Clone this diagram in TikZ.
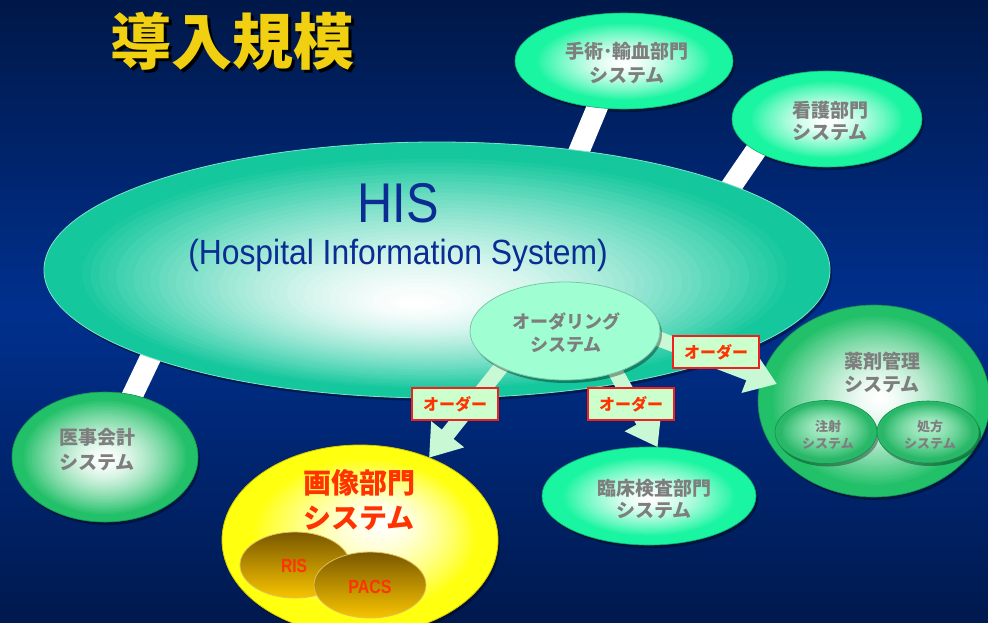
\documentclass[tikz,border=0pt]{standalone}
\usepackage{fontspec}
\usetikzlibrary{shapes.geometric,arrows.meta,shadows}
\newfontfamily\jp{Noto Sans CJK JP}
\newfontfamily\ar{Liberation Sans}
\definecolor{bgtop}{HTML}{001848}
\definecolor{bgmid}{HTML}{00308E}
\definecolor{bgbot}{HTML}{00194E}
\definecolor{titley}{HTML}{F0D010}
\definecolor{hisgreen}{HTML}{14C79C}
\definecolor{hisedge}{HTML}{7FE0C8}
\definecolor{hisblue}{HTML}{0B2C92}
\definecolor{mint}{HTML}{19F5A0}
\definecolor{mintedge}{HTML}{10B070}
\definecolor{leaf}{HTML}{22C068}
\definecolor{leafedge}{HTML}{139050}
\definecolor{subleaf}{HTML}{28B868}
\definecolor{subleafin}{HTML}{B0F0CC}
\definecolor{yell}{HTML}{FFFF10}
\definecolor{yelledge}{HTML}{D8C800}
\definecolor{goldtop}{HTML}{7A5800}
\definecolor{goldbot}{HTML}{F8C400}
\definecolor{goldedge}{HTML}{E0C060}
\definecolor{graytxt}{HTML}{7E7E7E}
\definecolor{redtxt}{HTML}{FF3300}
\definecolor{ordfill}{HTML}{A0FFD2}
\definecolor{ordedge}{HTML}{78C8A8}
\definecolor{arrowfill}{HTML}{C8F8D4}
\definecolor{labfill}{HTML}{CCFFCC}
\definecolor{labred}{HTML}{F02020}
\def\glowexp{1.5}
% glow: #1 cx, #2 cy, #3 rx, #4 ry, #5 outer colour, #6 hx, #7 hy (highlight), #8 fraction where outer colour is full, #9 inner colour
\newcommand\glowfill[9]{%
  \foreach \k in {1,...,40}{%
    \pgfmathsetmacro\gs{#8*(1-\k/40)}%
    \pgfmathtruncatemacro\gp{100*(\gs/#8)^\glowexp}%
    \pgfmathsetmacro\gx{#6+\gs*(#1-#6)}%
    \pgfmathsetmacro\gy{#7+\gs*(#2-#7)}%
    \pgfmathsetmacro\grx{#3*\gs}%
    \pgfmathsetmacro\gry{#4*\gs}%
    \fill[#5!\gp!#9] (\gx,\gy) ellipse [x radius=\grx, y radius=\gry];
  }}
\tikzset{
  ell/.style={ellipse, inner sep=0pt, outer sep=0pt},
  shad/.style={drop shadow={shadow xshift=2pt, shadow yshift=-3pt, fill=black, opacity=.35}},
  bar/.style={draw=white, line width=21pt, shorten <=-8pt, shorten >=-8pt},
  ordarrow/.style={draw=arrowfill, line width=15pt, -{Triangle[length=30pt 0 0, width=40pt 0 0]}},
  ordlabel/.style={rectangle, draw=labred, line width=1.4pt, fill=labfill, minimum width=86pt, minimum height=32pt, inner sep=0pt, text=redtxt, font={\jp\bfseries\fontsize{16}{16}\selectfont}},
  gtxt/.style={align=center, text=graytxt, inner sep=0pt, font={\jp\bfseries\fontsize{19}{24}\selectfont}},
  stxt/.style={align=center, text=graytxt, inner sep=0pt, font={\jp\bfseries\fontsize{13}{17}\selectfont}},
  gold/.style={ell, top color=goldtop, bottom color=goldbot, draw=goldedge, line width=.8pt},
}
\begin{document}
\begin{tikzpicture}[x=1pt,y=-1pt]
\useasboundingbox (0,0) rectangle (988,622);
\shade[top color=bgtop, bottom color=bgbot, middle color=bgmid] (0,0) rectangle (988,622);
% title with shadow
\node[inner sep=0pt, font={\jp\bfseries\fontsize{61}{61}\selectfont}] (title) at (232,43) {\rlap{\kern3pt\raisebox{-3pt}{\color{black}導入規模}}\color{titley}導入規模};
% nodes used for anchors / shadows
\node[ell, minimum width=786pt, minimum height=256pt, fill=hisgreen, shad] (his) at (437,270) {};
\node[ell, minimum width=218pt, minimum height=96pt, fill=mint, shad] (op) at (624,61) {};
\node[ell, minimum width=190pt, minimum height=96pt, fill=mint, shad] (nur) at (827,119) {};
\node[ell, minimum width=186pt, minimum height=130pt, fill=leaf, shad] (acc) at (105,457) {};
% white bars
\draw[bar] (op.-120) -- (his.40);
\draw[bar] (nur.-156) -- (his.16);
\draw[bar] (his.-163) -- (acc.66);
% glowing fills over the bars
\fill[hisgreen] (his.center) ellipse [x radius=393, y radius=128];
\glowfill{437}{270}{393}{128}{hisgreen}{415}{305}{0.92}{white}
\draw[hisedge, line width=.8pt] (his.center) ellipse [x radius=393, y radius=128];
\fill[mint] (op.center) ellipse [x radius=109, y radius=48];
\glowfill{624}{61}{109}{48}{mint}{624}{64}{0.82}{white}
\draw[mintedge, line width=.6pt] (op.center) ellipse [x radius=109, y radius=48];
\fill[mint] (nur.center) ellipse [x radius=95, y radius=48];
\glowfill{827}{119}{95}{48}{mint}{827}{122}{0.82}{white}
\draw[mintedge, line width=.6pt] (nur.center) ellipse [x radius=95, y radius=48];
\fill[leaf] (acc.center) ellipse [x radius=93, y radius=65];
\glowfill{105}{457}{93}{65}{leaf}{105}{460}{0.9}{white}
\draw[leafedge, line width=.6pt] (acc.center) ellipse [x radius=93, y radius=65];
% HIS text
\node[anchor=base, text=hisblue, inner sep=0pt, font={\ar\fontsize{56}{56}\selectfont}] (histitle) at (398,222) {\scalebox{0.87}[1]{HIS}};
\node[anchor=base, text=hisblue, inner sep=0pt, font={\ar\fontsize{35}{35}\selectfont}] (hisfull) at (398,264) {\scalebox{0.91}[1]{(Hospital Information System)}};
% other systems
\node[gtxt] (optxt) at (627,63) {手術･輸血部門\\システム};
\node[gtxt, font={\jp\bfseries\fontsize{19}{22}\selectfont}] (nurtxt) at (830,121) {看護部門\\システム};
\node[gtxt, font={\jp\bfseries\fontsize{19}{25}\selectfont}] (acctxt) at (97,450) {医事会計\\システム};
% image dept
\node[ell, minimum width=276pt, minimum height=190pt, fill=yell, draw=yelledge, line width=.8pt, shad] (img) at (360,540) {};
\glowfill{360}{540}{138}{95}{yell}{385}{520}{0.82}{white}
\node[align=center, text=redtxt, inner sep=0pt, font={\jp\bfseries\fontsize{28}{35}\selectfont}] (imgtxt) at (359,500) {画像部門\\システム};
\node[gold, minimum width=110pt, minimum height=66pt] (ris) at (295,565) {};
\node[text=redtxt, inner sep=0pt, font={\ar\bfseries\fontsize{19}{19}\selectfont}] (ristxt) at (294,566) {\scalebox{0.82}[1]{RIS}};
\node[gold, minimum width=112pt, minimum height=66pt] (pacs) at (370,585) {};
\node[text=redtxt, inner sep=0pt, font={\ar\bfseries\fontsize{19}{19}\selectfont}] (pacstxt) at (370,587) {\scalebox{0.84}[1]{PACS}};
% clinical lab
\node[ell, minimum width=214pt, minimum height=98pt, fill=mint, draw=mintedge, line width=.6pt, shad] (lab) at (649,496) {};
\glowfill{649}{496}{107}{49}{mint}{649}{499}{0.82}{white}
\node[gtxt, font={\jp\bfseries\fontsize{19}{22}\selectfont}] (labtxt) at (654,499) {臨床検査部門\\システム};
% drug management
\node[ell, minimum width=232pt, minimum height=192pt, fill=leaf, draw=leafedge, line width=.6pt, shad] (drug) at (874,401) {};
\glowfill{874}{401}{116}{96}{leaf}{880}{398}{0.9}{white}
\node[gtxt, font={\jp\bfseries\fontsize{19}{23}\selectfont}] (drugtxt) at (882,372) {薬剤管理\\システム};
\node[ell, minimum width=102pt, minimum height=63pt, fill=subleaf, draw=leafedge, line width=.6pt, shad] (inj) at (826,432) {};
\glowfill{826}{432}{51}{31.5}{subleaf}{826}{426}{0.9}{subleafin}
\node[stxt] (injtxt) at (828,435) {注射\\システム};
\node[ell, minimum width=102pt, minimum height=62pt, fill=subleaf, draw=leafedge, line width=.6pt, shad] (rx) at (928,432) {};
\glowfill{928}{432}{51}{31}{subleaf}{928}{426}{0.9}{subleafin}
\node[stxt] (rxtxt) at (930,435) {処方\\システム};
% ordering arrows
\coordinate (sA) at (502,366);
\coordinate (sB) at (615,371);
\coordinate (sC) at (659,339);
\coordinate (tipC) at (777,384);
\draw[ordarrow, shorten <=-8pt] (sA) -- (img.50);
\draw[ordarrow, shorten <=-8pt] (sB) -- (lab.80);
\draw[ordarrow, shorten <=-8pt] (sC) -- (tipC);
% ordering system
\node[ell, minimum width=190pt, minimum height=98pt, fill=ordfill, draw=ordedge, line width=.8pt, shad] (ord) at (565,331) {};
\node[gtxt, font={\jp\bfseries\fontsize{18}{23}\selectfont}] (ordtxt) at (566,333) {オーダリング\\システム};
% labels
\node[ordlabel] (l1) at (455,404) {オーダー};
\node[ordlabel] (l2) at (631,404) {オーダー};
\node[ordlabel] (l3) at (716,352) {オーダー};
\end{tikzpicture}
\end{document}
